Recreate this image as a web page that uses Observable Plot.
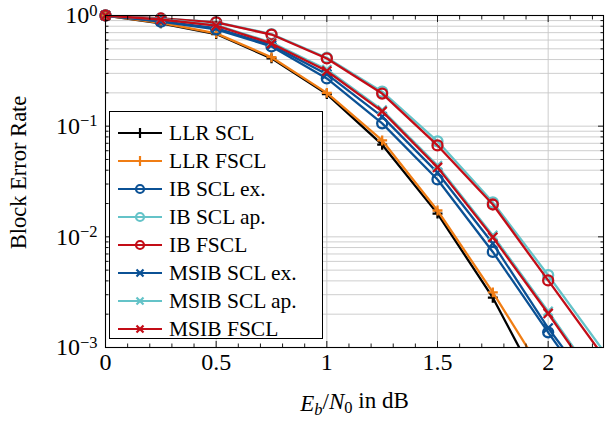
<!DOCTYPE html>
<html><head><meta charset="utf-8">
<script src="https://cdn.jsdelivr.net/npm/d3@7"></script>
<script src="https://cdn.jsdelivr.net/npm/@observablehq/plot@0.6"></script>
<style>
body{margin:0;background:#fff}
#wrap{position:relative;width:605px;height:422px;font-family:"Liberation Serif",serif}
#legend{position:absolute;left:109px;top:111px;width:212px;height:226px;border:1px solid #000;background:#fff}
.row{position:absolute;left:0;height:28px;display:flex;align-items:center;font-size:21.5px;white-space:nowrap;color:#000}
.row svg{margin-left:8px;margin-right:7px}
</style></head><body><div id="wrap"></div>
<script>
// ---- data ----
const xs = [0, 0.25, 0.5, 0.75, 1, 1.25, 1.5, 1.75, 2, 2.25];
const seriesNames = ["LLR SCL","LLR FSCL","IB SCL ex.","IB SCL ap.","IB FSCL","MSIB SCL ex.","MSIB SCL ap.","MSIB FSCL"];
const seriesColors = ["#000000","#f07d14","#0b5195","#64c3c8","#c30d17","#0b5195","#64c3c8","#c30d17"];
const seriesSymbols = ["plus","plus","circle","circle","circle","times","times","times"];
const llrScl    = [1, 0.85, 0.68, 0.41, 0.195, 0.068, 0.0162, 0.00282, 0.00032];
const llrFscl   = [1, 0.86, 0.69, 0.42, 0.200, 0.0743, 0.0173, 0.00315, 0.00050];
const ibSclEx   = [1, 0.88, 0.75, 0.525, 0.27, 0.106, 0.033, 0.0073, 0.00137, 0.00027];
const ibSclAp   = [1, 0.94, 0.87, 0.68, 0.415, 0.205, 0.073, 0.0205, 0.0045, 0.00093];
const ibFscl    = [1, 0.94, 0.865, 0.673, 0.409, 0.197, 0.067, 0.0196, 0.00404, 0.00083];
const msibSclEx = [1, 0.89, 0.77, 0.54, 0.295, 0.122, 0.038, 0.0087, 0.0015, 0.00032];
const msibSclAp = [1, 0.93, 0.82, 0.57, 0.325, 0.140, 0.0440, 0.0103, 0.00212, 0.00041];
const msibFscl  = [1, 0.92, 0.81, 0.559, 0.315, 0.136, 0.0424, 0.0099, 0.00203, 0.00039];
const seriesValues = [llrScl, llrFscl, ibSclEx, ibSclAp, ibFscl, msibSclEx, msibSclAp, msibFscl];

const xDomain = [0, 2.25];
const yDomain = [1e-3, 1];
const xTicks = [0, 0.5, 1, 1.5, 2];
const xTickLabels = ["0", "0.5", "1", "1.5", "2"];
const yTicks = [1e-3, 1e-2, 1e-1, 1];
const yTickLabels = ["10^−3", "10^−2", "10^−1", "10^0"];
const xLabel = "E_b/N_0 in dB";
const yLabel = "Block Error Rate";

// minor ticks
const xMinor = d3.range(1, 23).map(k => k / 10).filter(v => Math.abs(v * 2 - Math.round(v * 2)) > 1e-9);
const yMinor = [];
for (const e of [-3, -2, -1]) for (let m = 2; m <= 9; m++) yMinor.push(m * Math.pow(10, e));

const symR = {plus: 3.3, circle: 5, times: 4.2};

const marks = [
  Plot.gridY(yMinor.concat(yTicks), {stroke: "#c8c8c8", strokeOpacity: 1, strokeWidth: 0.9}),
  Plot.gridX(xTicks, {stroke: "#c8c8c8", strokeOpacity: 1, strokeWidth: 0.9}),
];
seriesValues.forEach((vals, i) => {
  const rows = vals.map((v, j) => ({x: xs[j], y: v}));
  marks.push(Plot.line(rows, {x: "x", y: "y", stroke: seriesColors[i], strokeWidth: 2.3, clip: true}));
  marks.push(Plot.dot(rows.filter(d => d.y >= yDomain[0] * 0.999 && d.x <= xDomain[1] - 1e-9),
    {x: "x", y: "y", symbol: seriesSymbols[i], r: symR[seriesSymbols[i]], stroke: seriesColors[i], strokeWidth: 2.3, fill: "none"}));
});
const tickStyle = {stroke: "#000", strokeWidth: 0.9};
marks.push(
  Plot.axisY(yTicks, {anchor: "left", tickSize: 6, dx: 6, tickPadding: 8, fontSize: 24, ...tickStyle,
    tickFormat: d => yTickLabels[yTicks.indexOf(d)], label: null}),
  Plot.axisY(yMinor, {anchor: "left", tickSize: 3.5, dx: 3.5, tickFormat: () => "", label: null, ...tickStyle}),
  Plot.axisY(yTicks, {anchor: "right", tickSize: 6, dx: -6, tickFormat: () => "", label: null, ...tickStyle}),
  Plot.axisY(yMinor, {anchor: "right", tickSize: 3.5, dx: -3.5, tickFormat: () => "", label: null, ...tickStyle}),
  Plot.axisX(xTicks, {anchor: "bottom", tickSize: 6, dy: -6, tickPadding: 5, fontSize: 24, ...tickStyle,
    tickFormat: d => xTickLabels[xTicks.indexOf(d)], label: null}),
  Plot.axisX(xMinor, {anchor: "bottom", tickSize: 3.5, dy: -3.5, tickFormat: () => "", label: null, ...tickStyle}),
  Plot.axisX(xTicks, {anchor: "top", tickSize: 6, dy: 6, tickFormat: () => "", label: null, ...tickStyle}),
  Plot.axisX(xMinor, {anchor: "top", tickSize: 3.5, dy: 3.5, tickFormat: () => "", label: null, ...tickStyle}),
  Plot.frame({stroke: "#000", strokeWidth: 1.1}),
  Plot.text([xLabel], {frameAnchor: "bottom", dy: 56, text: d => d, fontSize: 23, textAnchor: "middle", lineAnchor: "middle", fill: "#000"}),
  Plot.text([yLabel], {frameAnchor: "left", dx: -87, dy: -9, rotate: -90, text: d => d, fontSize: 22.5, textAnchor: "middle", lineAnchor: "middle", fill: "#000"})
);

const svg = Plot.plot({
  width: 605, height: 422,
  marginLeft: 105, marginRight: 2, marginTop: 15, marginBottom: 75,
  style: {fontFamily: '"Liberation Serif", serif', color: "#000", background: "#fff"},
  x: {domain: xDomain},
  y: {type: "log", domain: yDomain},
  marks
});

// superscripts / subscripts
const NS = "http://www.w3.org/2000/svg";
svg.querySelectorAll("text").forEach(t => {
  const s = t.textContent;
  const m = s.match(/^10\^(.*)$/);
  if (m) {
    t.textContent = "";
    const a = document.createElementNS(NS, "tspan"); a.textContent = "10"; t.appendChild(a);
    const b = document.createElementNS(NS, "tspan"); b.textContent = m[1];
    b.setAttribute("dy", "-0.45em"); b.setAttribute("font-size", "16.5"); t.appendChild(b);
  } else if (s === xLabel) {
    t.textContent = "";
    const parts = [
      ["E", {"font-style": "italic"}],
      ["b", {"font-style": "italic", "font-size": "16.5", "dy": "0.25em"}],
      ["/", {"dy": "-0.25em"}],
      ["N", {"font-style": "italic"}],
      ["0", {"font-size": "16.5", "dy": "0.25em"}],
      ["\u00a0in dB", {"dy": "-0.25em"}]
    ];
    for (const [txt, attrs] of parts) {
      const sp = document.createElementNS(NS, "tspan"); sp.textContent = txt;
      for (const k in attrs) sp.setAttribute(k, attrs[k]);
      t.appendChild(sp);
    }
  }
});

const wrap = document.getElementById("wrap");
wrap.appendChild(svg);

// legend
const legend = document.createElement("div");
legend.id = "legend";
seriesNames.forEach((name, i) => {
  const row = document.createElement("div");
  row.className = "row";
  row.style.top = (7 + i * 28) + "px";
  const c = seriesColors[i];
  let mk;
  if (seriesSymbols[i] === "plus") mk = `<path d="M22,9V19M17,14H27" stroke="${c}" stroke-width="2.2" fill="none"/>`;
  else if (seriesSymbols[i] === "circle") mk = `<circle cx="22" cy="14" r="4" stroke="${c}" stroke-width="2.2" fill="none"/>`;
  else mk = `<path d="M18.5,10.5L25.5,17.5M18.5,17.5L25.5,10.5" stroke="${c}" stroke-width="2.2" fill="none"/>`;
  row.innerHTML = `<svg width="44" height="28"><line x1="0" y1="14" x2="44" y2="14" stroke="${c}" stroke-width="2.2"/>${mk}</svg><span>${name}</span>`;
  legend.appendChild(row);
});
wrap.appendChild(legend);
</script></body></html>
